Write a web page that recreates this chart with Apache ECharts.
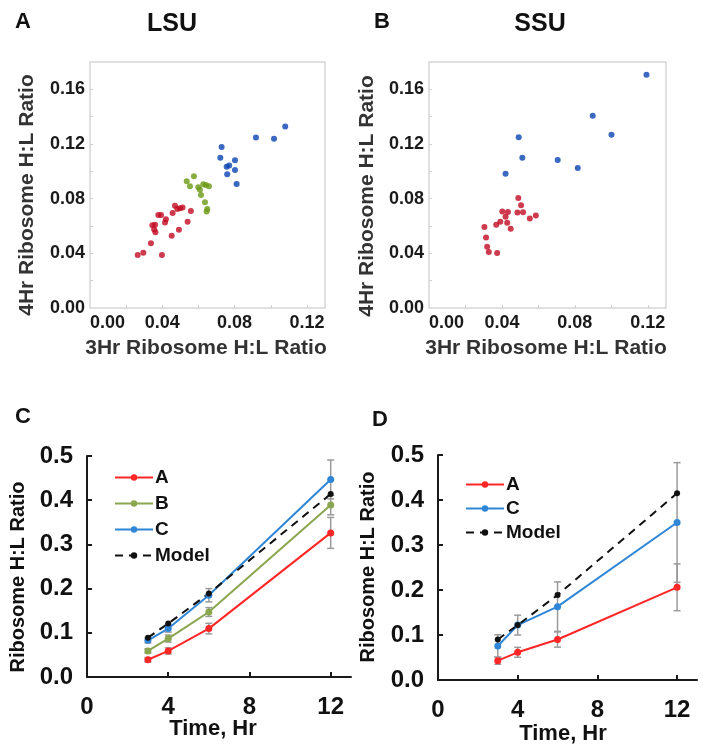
<!DOCTYPE html>
<html>
<head>
<meta charset="utf-8">
<script src="https://cdn.jsdelivr.net/npm/echarts@6/dist/echarts.min.js"></script>
<style>
html,body{margin:0;padding:0;background:#fff;}
#chart{width:703px;height:755px;}
</style>
</head>
<body>
<div id="chart"></div>
<script>
// ---------- Panel A (LSU) scatter data: [3Hr ratio, 4Hr ratio] ----------
const lsuRed = [
  [0.0264,0.0388],[0.0295,0.0405],[0.0398,0.0388],[0.0337,0.0474],
  [0.0345,0.0605],[0.0360,0.0610],[0.0355,0.0575],[0.0362,0.0555],
  [0.0378,0.0680],[0.0393,0.0680],[0.0415,0.0626],[0.0420,0.0650],
  [0.0452,0.0528],[0.0492,0.0572],[0.0457,0.0695],[0.0470,0.0748],
  [0.0483,0.0724],[0.0498,0.0729],[0.0512,0.0736],[0.0540,0.0631],
  [0.0558,0.0709]
];
const lsuGreen = [
  [0.0535,0.0928],[0.0575,0.0964],[0.0553,0.0891],[0.0599,0.0883],
  [0.0608,0.0866],[0.0627,0.0905],[0.0641,0.0900],[0.0658,0.0891],
  [0.0614,0.0827],[0.0636,0.0773],[0.0649,0.0724],[0.0645,0.0707]
];
const lsuBlue = [
  [0.0728,0.1178],[0.0721,0.1100],[0.0802,0.1082],[0.0756,0.1033],
  [0.0770,0.1043],[0.0759,0.0979],[0.0802,0.1009],[0.0811,0.0908],
  [0.0918,0.1247],[0.1018,0.1239],[0.1080,0.1328]
];
// ---------- Panel B (SSU) scatter data ----------
const ssuBlue = [
  [0.1193,0.1707],[0.0898,0.1407],[0.1001,0.1268],[0.0492,0.1249],
  [0.0512,0.1100],[0.0706,0.1083],[0.0816,0.1024],[0.0420,0.0983]
];
const ssuRed = [
  [0.0490,0.0805],[0.0505,0.0751],[0.0402,0.0707],[0.0433,0.0702],
  [0.0485,0.0698],[0.0516,0.0700],[0.0420,0.0668],[0.0391,0.0632],
  [0.0369,0.0610],[0.0429,0.0624],[0.0448,0.0580],[0.0553,0.0654],
  [0.0586,0.0676],[0.0304,0.0593],[0.0313,0.0515],[0.0319,0.0449],
  [0.0328,0.0410],[0.0374,0.0402]
];
// ---------- Panels C & D: time course ----------
const times = [3, 4, 6, 12];
const xTickLabels = [0, 4, 8, 12];
const scatterTickLabels = [0, 0.04, 0.08, 0.12];
const lsuA = [0.039, 0.059, 0.1095, 0.326];
const lsuAErr = [0.005, 0.007, 0.012, 0.035];
const lsuB = [0.059, 0.087, 0.147, 0.389];
const lsuBErr = [0.005, 0.008, 0.010, 0.022];
const lsuC = [0.083, 0.1095, 0.185, 0.447];
const lsuCErr = [0.006, 0.008, 0.015, 0.044];
const lsuModel = [0.089, 0.121, 0.189, 0.414];
const ssuA = [0.043, 0.0615, 0.090, 0.206];
const ssuAErr = [0.008, 0.011, 0.017, 0.052];
const ssuC = [0.0755, 0.122, 0.163, 0.350];
const ssuCErr = [0.025, 0.022, 0.055, 0.133];
const ssuModel = [0.090, 0.122, 0.189, 0.415];

const FONT = '"Liberation Sans", Arial, sans-serif';
const colRedS = '#c20a22', colGreenS = '#6a9a14', colBlueS = '#0a42b0';
const colRed = '#ff2626', colGreen = '#8aa64e', colBlue = '#2f86d6';

function pairs(xs, ys) { return xs.map((x, i) => [x, ys[i]]); }
function errData(xs, ys, es) { return xs.map((x, i) => [x, ys[i] - es[i], ys[i] + es[i]]); }

function errSeries(xi, data) {
  return {
    type: 'custom', xAxisIndex: xi, yAxisIndex: xi, z: 1, silent: true,
    encode: { x: 0, y: [1, 2] },
    data: data,
    renderItem: function (params, api) {
      const x = api.value(0), lo = api.value(1), hi = api.value(2);
      const p1 = api.coord([x, lo]), p2 = api.coord([x, hi]);
      const w = 3.5;
      const st = { stroke: '#9a9a9a', lineWidth: 1.5 };
      return { type: 'group', children: [
        { type: 'line', shape: { x1: p1[0], y1: p1[1], x2: p2[0], y2: p2[1] }, style: st },
        { type: 'line', shape: { x1: p1[0] - w, y1: p1[1], x2: p1[0] + w, y2: p1[1] }, style: st },
        { type: 'line', shape: { x1: p2[0] - w, y1: p2[1], x2: p2[0] + w, y2: p2[1] }, style: st }
      ]};
    }
  };
}
function lineSeries(name, xi, data, color, dashed) {
  return {
    type: 'line', name: name, xAxisIndex: xi, yAxisIndex: xi, z: 3,
    data: data, symbol: 'circle', symbolSize: dashed ? 6 : 7,
    itemStyle: { color: color },
    lineStyle: { color: color, width: 2, type: dashed ? [8, 6] : 'solid' },
    animation: false
  };
}
function scatterSeries(name, xi, data, color) {
  return { type: 'scatter', name: name, xAxisIndex: xi, yAxisIndex: xi, data: data,
    symbolSize: 6, itemStyle: { color: color }, animation: false };
}
function scatterX(gi) {
  return {
    type: 'value', gridIndex: gi, min: 0, max: 0.13, interval: 0.04,
    axisLine: { show: false }, splitLine: { show: false },
    axisTick: { show: true, inside: true, length: 3, customValues: [0.02,0.04,0.06,0.08,0.10,0.12],
      lineStyle: { color: '#d0d0d0', width: 1 } },
    axisLabel: { customValues: scatterTickLabels, formatter: v => v.toFixed(2), margin: 6,
      alignMinLabel: 'left',
      fontFamily: FONT, fontWeight: 'bold', fontSize: 18, color: '#1a1a1a' }
  };
}
function scatterY(gi) {
  return {
    type: 'value', gridIndex: gi, min: 0, max: 0.18, interval: 0.04,
    axisLine: { show: false }, splitLine: { show: false },
    axisTick: { show: true, inside: true, length: 3, customValues: [0.02,0.04,0.06,0.08,0.10,0.12,0.14,0.16],
      lineStyle: { color: '#d0d0d0', width: 1 } },
    axisLabel: { customValues: [0, 0.04, 0.08, 0.12, 0.16], formatter: v => v.toFixed(2), margin: 5,
      fontFamily: FONT, fontWeight: 'bold', fontSize: 18, color: '#1a1a1a' }
  };
}
function timeX(gi) {
  return {
    type: 'value', gridIndex: gi, min: 0, max: 13, interval: 4,
    axisLine: { show: true, onZero: false, lineStyle: { color: '#1a1a1a', width: 2 } },
    splitLine: { show: false },
    axisTick: { show: true, inside: true, length: 5, customValues: [4, 8, 12],
      lineStyle: { color: '#1a1a1a', width: 2 } },
    axisLabel: { customValues: xTickLabels, margin: 18,
      fontFamily: FONT, fontWeight: 'bold', fontSize: 24, color: '#111' }
  };
}
function ratioY(gi) {
  return {
    type: 'value', gridIndex: gi, min: 0, max: 0.5, interval: 0.1,
    axisLine: { show: true, lineStyle: { color: '#1a1a1a', width: 2 } },
    splitLine: { show: false },
    axisTick: { show: true, inside: true, length: 5, lineStyle: { color: '#1a1a1a', width: 2 } },
    axisLabel: { formatter: v => v.toFixed(1), margin: 14,
      fontFamily: FONT, fontWeight: 'bold', fontSize: 24, color: '#111' }
  };
}
function txt(x, y, text, size, opts) {
  opts = opts || {};
  return {
    type: 'text', x: x, y: y, rotation: opts.rot || 0, z: 10,
    style: { text: text, fill: opts.color || '#111', font: 'bold ' + size + 'px ' + FONT,
      align: 'center', verticalAlign: 'middle', textAlign: 'center', textVerticalAlign: 'middle' }
  };
}

const chart = echarts.init(document.getElementById('chart'), null, { renderer: 'canvas' });
const option = {
  backgroundColor: '#ffffff',
  animation: false,
  grid: [
    { left: 90, top: 62, width: 235, height: 246, show: true, borderColor: '#d6d6d6', borderWidth: 1.5 },
    { left: 429, top: 62, width: 237, height: 246, show: true, borderColor: '#d6d6d6', borderWidth: 1.5 },
    { left: 87, top: 456, width: 264, height: 221 },
    { left: 438, top: 455, width: 259, height: 225 }
  ],
  xAxis: [scatterX(0), scatterX(1), timeX(2), timeX(3)],
  yAxis: [scatterY(0), scatterY(1), ratioY(2), ratioY(3)],
  legend: [
    { left: 109, top: 463, orient: 'vertical', itemWidth: 38, itemHeight: 8, itemGap: 7,
      data: ['A', 'B', 'C', 'Model'], selectedMode: false,
      textStyle: { fontFamily: FONT, fontWeight: 'bold', fontSize: 19, color: '#111', padding: [0, 0, 0, -3] } },
    { left: 460, top: 470, orient: 'vertical', itemWidth: 38, itemHeight: 8, itemGap: 5,
      data: ['A', 'C', 'Model'], selectedMode: false,
      textStyle: { fontFamily: FONT, fontWeight: 'bold', fontSize: 19, color: '#111', padding: [0, 0, 0, -3] } }
  ],
  series: [
    scatterSeries('LSU low', 0, lsuRed, colRedS),
    scatterSeries('LSU mid', 0, lsuGreen, colGreenS),
    scatterSeries('LSU high', 0, lsuBlue, colBlueS),
    scatterSeries('SSU low', 1, ssuRed, colRedS),
    scatterSeries('SSU high', 1, ssuBlue, colBlueS),
    errSeries(2, errData(times, lsuA, lsuAErr)),
    errSeries(2, errData(times, lsuB, lsuBErr)),
    errSeries(2, errData(times, lsuC, lsuCErr)),
    lineSeries('A', 2, pairs(times, lsuA), colRed, false),
    lineSeries('B', 2, pairs(times, lsuB), colGreen, false),
    lineSeries('C', 2, pairs(times, lsuC), colBlue, false),
    lineSeries('Model', 2, pairs(times, lsuModel), '#111', true),
    errSeries(3, errData(times, ssuA, ssuAErr)),
    errSeries(3, errData(times, ssuC, ssuCErr)),
    lineSeries('A', 3, pairs(times, ssuA), colRed, false),
    lineSeries('C', 3, pairs(times, ssuC), colBlue, false),
    lineSeries('Model', 3, pairs(times, ssuModel), '#111', true)
  ],
  graphic: [
    txt(23, 22, 'A', 22),
    txt(172, 24, 'LSU', 25),
    txt(382, 22, 'B', 22),
    txt(540, 24, 'SSU', 25),
    txt(206, 348, '3Hr Ribosome H:L Ratio', 21, { color: '#333' }),
    txt(546, 348, '3Hr Ribosome H:L Ratio', 21, { color: '#333' }),
    txt(27, 195, '4Hr Ribosome H:L Ratio', 21, { color: '#333', rot: Math.PI / 2 }),
    txt(367, 196, '4Hr Ribosome H:L Ratio', 21, { color: '#333', rot: Math.PI / 2 }),
    txt(23, 417, 'C', 22),
    txt(380, 420, 'D', 22),
    txt(213, 729, 'Time, Hr', 22),
    txt(563, 734, 'Time, Hr', 22),
    txt(18, 577, 'Ribosome H:L Ratio', 20, { rot: Math.PI / 2 }),
    txt(368, 567, 'Ribosome H:L Ratio', 20, { rot: Math.PI / 2 })
  ]
};
chart.setOption(option);
</script>
</body>
</html>
